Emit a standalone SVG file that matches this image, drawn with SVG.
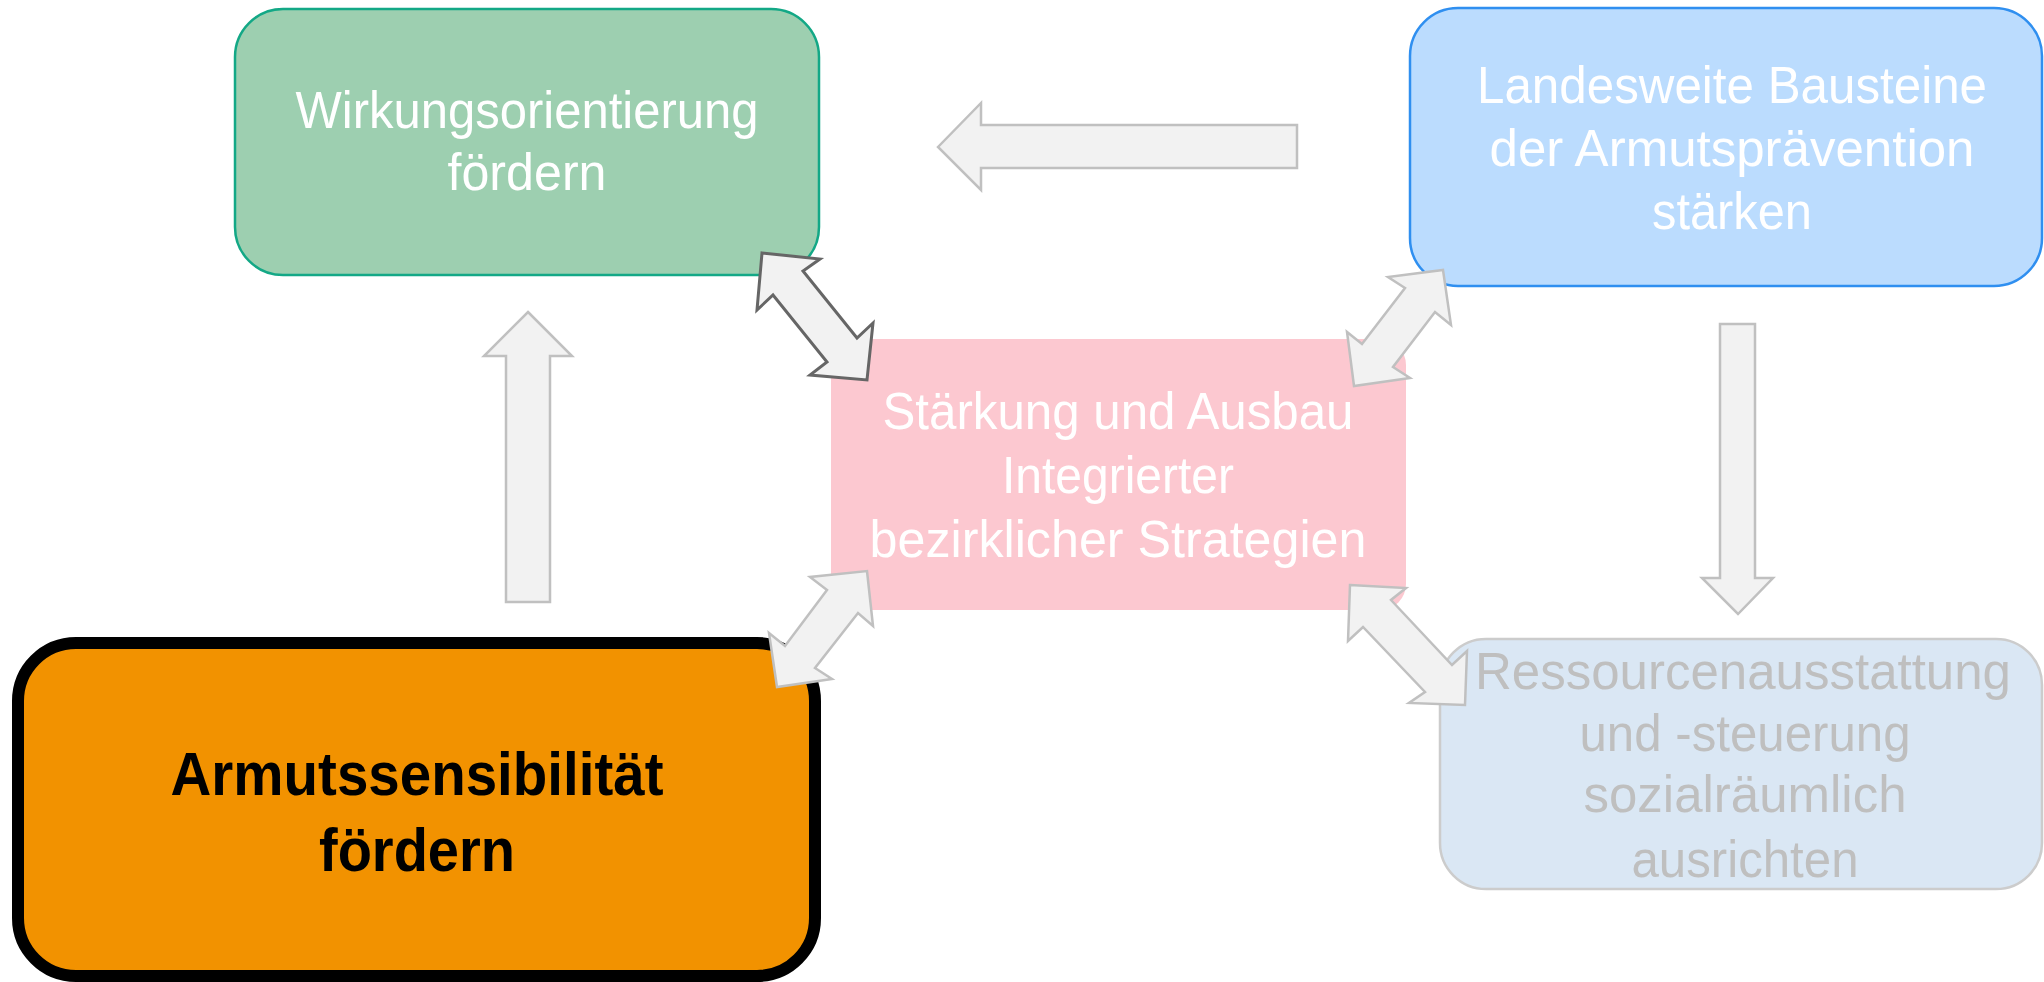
<svg xmlns="http://www.w3.org/2000/svg" width="2044" height="982" viewBox="0 0 2044 982">
<style>
.t{font-family:"Liberation Sans",Arial,sans-serif;font-size:52px;text-anchor:middle}
.w{fill:#ffffff}
.g{fill:#bfbfbf}
.b{font-weight:bold;font-size:62px;fill:#000000}
.arr{fill:#f2f2f2;stroke:#c0c0c0;stroke-width:2.5;stroke-linejoin:miter}
.arrd{fill:#f2f2f2;stroke:#666666;stroke-width:3;stroke-linejoin:miter}
</style>
<rect width="2044" height="982" fill="#ffffff"/>
<g id="node-wirkung">
<rect x="235" y="9" width="584" height="266" rx="48" fill="#9dcfb0" stroke="#13a886" stroke-width="2.5"/>
<text class="t w" x="527" y="128" textLength="463" lengthAdjust="spacingAndGlyphs">Wirkungsorientierung</text>
<text class="t w" x="527" y="190" textLength="159" lengthAdjust="spacingAndGlyphs">fördern</text>
</g>
<g id="node-landesweit">
<rect x="1410" y="8" width="632" height="278" rx="48" fill="#bbdcfe" stroke="#2f8ff0" stroke-width="2.5"/>
<text class="t w" x="1732" y="103" textLength="510" lengthAdjust="spacingAndGlyphs">Landesweite Bausteine</text>
<text class="t w" x="1732" y="166" textLength="485" lengthAdjust="spacingAndGlyphs">der Armutsprävention</text>
<text class="t w" x="1732" y="229" textLength="160" lengthAdjust="spacingAndGlyphs">stärken</text>
</g>
<g id="node-staerkung">
<rect x="831" y="339" width="575" height="271" rx="26" fill="#fcc8d0"/>
<text class="t w" x="1118" y="429" textLength="471" lengthAdjust="spacingAndGlyphs">Stärkung und Ausbau</text>
<text class="t w" x="1118" y="493" textLength="232" lengthAdjust="spacingAndGlyphs">Integrierter</text>
<text class="t w" x="1118" y="557" textLength="497" lengthAdjust="spacingAndGlyphs">bezirklicher Strategien</text>
</g>
<g id="node-ressourcen">
<rect x="1440" y="639" width="602" height="250" rx="46" fill="#dae7f4" stroke="#cccccc" stroke-width="2.5"/>
<text class="t g" x="1743" y="689" textLength="536" lengthAdjust="spacingAndGlyphs">Ressourcenausstattung</text>
<text class="t g" x="1745" y="751" textLength="331" lengthAdjust="spacingAndGlyphs">und -steuerung</text>
<text class="t g" x="1745" y="812" textLength="323" lengthAdjust="spacingAndGlyphs">sozialräumlich</text>
<text class="t g" x="1745" y="877" textLength="227" lengthAdjust="spacingAndGlyphs">ausrichten</text>
</g>
<g id="node-armut">
<rect x="18" y="643" width="797" height="333" rx="58" fill="#f29200" stroke="#000000" stroke-width="12"/>
<text class="t b" x="417" y="795" textLength="493" lengthAdjust="spacingAndGlyphs">Armutssensibilität</text>
<text class="t b" x="417" y="871" textLength="196" lengthAdjust="spacingAndGlyphs">fördern</text>
</g>
<g id="connectors">
<polygon class="arr" points="938,147 981,103 981,125 1297,125 1297,168 981,168 981,190"/>
<polygon class="arr" points="528,312 572,356 550,356 550,602 506,602 506,356 484,356"/>
<polygon class="arr" points="1720,324 1755,324 1755,578 1773,578 1738,614 1702,578 1720,578"/>
<polygon class="arrd" points="762,253 820,259 803,271 857,338 873,323 867,380 810,375 827,362 773,295 757,310"/>
<polygon class="arr" points="1443,270 1451,325 1435,312 1393,367 1410,378 1354,386 1347,332 1362,344 1405,288 1388,277"/>
<polygon class="arr" points="867,571 873,626 858,613 815,668 832,679 777,687 769,633 785,646 827,590 810,577"/>
<polygon class="arr" points="1350,585 1406,588 1391,600 1452,665 1467,651 1465,705 1409,703 1425,692 1363,627 1348,641"/>
</g>
</svg>
